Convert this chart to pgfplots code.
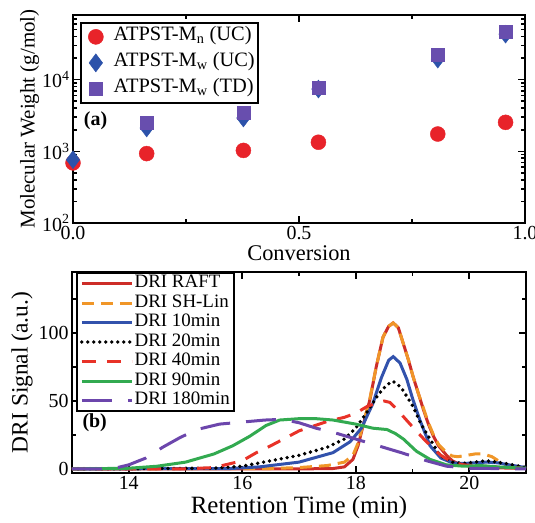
\documentclass[border=0pt]{standalone}
\usepackage{pgfplots}
\pgfplotsset{compat=1.18}
\usepackage{fontspec}
\setmainfont{Liberation Serif}
\definecolor{cMn}{RGB}{232,35,42}
\definecolor{cMwUC}{RGB}{44,82,170}
\definecolor{cMwTD}{RGB}{104,78,174}
\definecolor{cRAFT}{RGB}{205,45,40}
\definecolor{cSH}{RGB}{240,150,40}
\definecolor{cTen}{RGB}{50,82,172}
\definecolor{cForty}{RGB}{232,50,40}
\definecolor{cNinety}{RGB}{50,170,80}
\definecolor{cPurple}{RGB}{108,70,172}
\begin{document}
\begin{tikzpicture}[x=1bp,y=1bp]
\pgfplotsset{
  every axis/.append style={
    scale only axis,
    axis line style={line width=2.2bp},
    every tick/.style={line width=1.6bp,black},
    major tick length=7bp, minor tick length=4bp,
    tick align=inside,
    ticklabel style={font=\fontsize{20}{20}\selectfont},
  },
}
% ---------------- top panel ----------------
\begin{axis}[at={(1bp,250bp)}, anchor=south west,
  width=452bp, height=208bp,
  xmin=0, xmax=1, ymode=log, ymin=100, ymax=8e4,
  xtick={0,0.5,1}, xticklabels={0.0,0.5,1.0},
  xticklabel style={yshift=-2bp, inner ysep=1bp},
  minor xtick={0.25,0.75},
  ytick={100,1000,10000},
  yticklabels={10\textsuperscript{2},10\textsuperscript{3},10\textsuperscript{4}},
  minor ytick={200,300,400,500,600,700,800,900,2000,3000,4000,5000,6000,7000,8000,9000,20000,30000,40000,50000,60000,70000,80000},
  xlabel={Conversion}, ylabel={Molecular Weight (g/mol)},
  xlabel style={font=\fontsize{22.5}{22.5}\selectfont, yshift=-1bp},
  ylabel style={font=\fontsize{21}{21}\selectfont, yshift=-4bp},
  clip=false,
  legend style={at={(0.016,0.966)}, anchor=north west, draw=black, line width=1.6bp,
    font=\fontsize{20.5}{20.5}\selectfont, inner xsep=2bp, inner ysep=2bp, row sep=2bp,
    nodes={inner sep=1bp, text height=15bp, text depth=7bp},
    cells={anchor=west}},
  legend image code/.code={\path (0bp,0bp) (28bp,0bp);\draw[#1, line width=0.5bp] plot coordinates {(12bp,0bp)};},
]
\addplot[only marks, mark=*, mark size=7.5bp, mark options={fill=cMn, draw=cMn}]
  coordinates {(0,690) (0.163,930) (0.377,1030) (0.543,1340) (0.807,1745) (0.957,2540)};
\addlegendentry{ATPST-M\textsubscript{n} (UC)}
\addplot[only marks, mark=diamond*, mark size=9bp, mark options={fill=cMwUC, draw=cMwUC}]
  coordinates {(0,765) (0.163,2120) (0.377,2920) (0.543,7410) (0.807,19400) (0.957,43300)};
\addlegendentry{ATPST-M\textsubscript{w} (UC)}
\addplot[only marks, mark=square*, mark size=6.5bp, mark options={fill=cMwTD, draw=cMwTD}]
  coordinates {(0.163,2550) (0.377,3430) (0.543,7700) (0.807,22300) (0.957,47200)};
\addlegendentry{ATPST-M\textsubscript{w} (TD)}
\node[font=\fontsize{20}{20}\selectfont\bfseries] at (rel axis cs:0.05,0.49) {(a)};
\end{axis}
% ---------------- bottom panel ----------------
\begin{axis}[at={(0,0)}, anchor=south west,
  width=454bp, height=201bp,
  xmin=13, xmax=21, ymin=-3, ymax=145,
  xtick={14,16,18,20}, xticklabels={14,16,18,20},
  minor xtick={13,15,17,19,21},
  ytick={0,50,100}, yticklabels={0,50,100},
  minor ytick={25,75,125},
  xlabel={Retention Time (min)}, ylabel={DRI Signal (a.u.)},
  xlabel style={font=\fontsize{25}{25}\selectfont, yshift=1bp},
  ylabel style={font=\fontsize{23.5}{23.5}\selectfont, yshift=-1bp},
  legend style={at={(0.009,1)}, anchor=north west, draw=black, line width=1.6bp,
    font=\fontsize{19}{19}\selectfont, inner xsep=3bp, inner ysep=1bp, row sep=0bp,
    nodes={inner sep=1bp, text height=13bp, text depth=4.5bp},
    cells={anchor=west}},
  legend image code/.code={\draw[#1] (0bp,0bp) -- (50bp,0bp);},
  every axis plot/.append style={line width=3bp},
]
\addplot[color=cRAFT, solid] coordinates {
(13,0) (17,0) (17.6,0.3) (17.8,1.5) (17.95,7) (18.04,17) (18.13,32) (18.25,51) (18.36,75) (18.48,97) (18.58,105) (18.66,107.5) (18.75,104) (18.84,92) (18.93,80) (19.01,68) (19.1,56) (19.19,44) (19.28,33) (19.37,24) (19.46,17) (19.6,10) (19.7,6) (19.8,4) (20.0,2) (20.3,1) (21,0.3)};
\addlegendentry{DRI RAFT}
\addplot[color=cSH, dash pattern=on 12bp off 7bp] coordinates {
(13,0) (16.5,0.3) (17.0,1) (17.5,2.5) (17.8,5) (17.95,10) (18.04,19) (18.13,33) (18.25,52) (18.36,75) (18.48,97) (18.58,105) (18.66,107.5) (18.75,104) (18.84,92) (18.93,80) (19.01,68) (19.1,56) (19.19,45) (19.28,34) (19.37,25) (19.46,18) (19.6,12) (19.7,9.5) (19.8,9) (19.95,10) (20.1,11) (20.25,11) (20.4,9) (20.55,5) (20.7,2) (21,0.5)};
\addlegendentry{DRI SH-Lin}
\addplot[color=cTen, solid] coordinates {
(13,0) (15.8,0.3) (16.3,1.5) (17.0,5) (17.6,12) (17.9,20) (18.1,30) (18.3,48) (18.45,67) (18.58,80) (18.66,82.7) (18.78,78) (18.9,66) (19.0,52) (19.13,36) (19.31,17) (19.5,8) (19.7,4.5) (19.9,4) (20.1,4.5) (20.3,5) (20.5,4.5) (20.7,3) (21,1)};
\addlegendentry{DRI 10min}
\addplot[color=black, dash pattern=on 0bp off 6bp, line cap=round, line width=3.8bp] coordinates {
(13,0) (15.5,0.5) (16.0,2) (16.5,6) (17.0,10) (17.5,16) (17.8,22) (18.0,30) (18.2,42) (18.4,55) (18.55,62) (18.66,64.5) (18.8,60) (19.01,46) (19.15,33) (19.31,22) (19.48,10) (19.7,5) (19.9,4) (20.1,5) (20.3,6) (20.5,5) (20.7,3.5) (21,1)};
\addlegendentry{DRI 20min}
\addplot[color=cForty, dash pattern=on 14bp off 11bp] coordinates {
(13,0) (15.0,0) (15.5,1) (16.0,6) (16.25,12) (16.5,17) (17.0,28) (17.5,35) (17.8,38) (18.0,41) (18.2,46) (18.4,49) (18.5,50) (18.6,49) (18.7,45) (18.85,38) (19.0,31) (19.2,22) (19.37,15) (19.5,10) (19.7,5) (19.9,3) (20.2,2) (20.5,1.5) (21,0.5)};
\addlegendentry{DRI 40min}
\addplot[color=cNinety, solid] coordinates {
(13,0) (14.0,0.5) (14.5,2) (15.0,5) (15.5,11) (15.83,17) (16.13,24) (16.42,32) (16.66,36) (17.0,37) (17.3,37) (17.6,36) (18.0,33) (18.3,30) (18.55,29) (18.7,26) (18.84,22) (19.07,13) (19.31,7) (19.6,3) (19.9,2) (20.2,2.5) (20.5,1.5) (21,0.5)};
\addlegendentry{DRI 90min}
\addplot[color=cPurple, dash pattern=on 30bp off 16bp] coordinates {
(13,0) (13.5,0) (13.8,1) (14.0,3) (14.3,8) (14.6,16) (14.9,23) (15.2,29) (15.6,33) (16.0,34.5) (16.4,36) (16.7,36.5) (17.0,34) (17.3,30) (17.6,27) (18.0,22) (18.4,17) (18.8,12) (19.25,6) (19.6,2) (20.0,0.5) (21,0)};
\addlegendentry{DRI 180min}
\node[font=\fontsize{20}{20}\selectfont\bfseries] at (rel axis cs:0.05,0.25) {(b)};
\end{axis}
\pgfresetboundingbox
\path[use as bounding box] (-72bp,-50bp) rectangle (463bp,473bp);
\end{tikzpicture}
\end{document}
